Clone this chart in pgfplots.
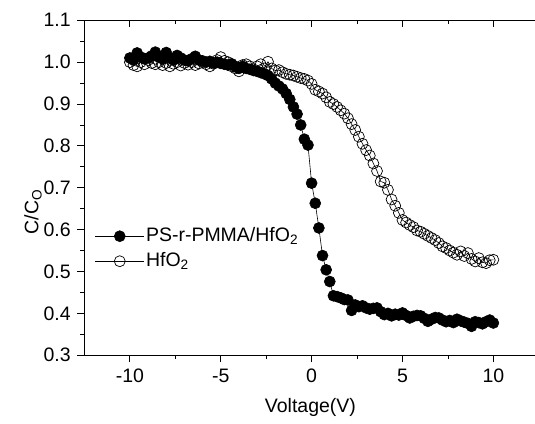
\documentclass[border=0pt]{standalone}
\usepackage{pgfplots}
\pgfplotsset{compat=1.18}
\usepackage{fontspec}
\setmainfont{Liberation Sans}
\begin{document}
\fontsize{19.5bp}{23bp}\selectfont
\begin{tikzpicture}
\begin{axis}[
  scale only axis, width=450.5bp, height=335.2bp,
  xmin=-12.5, xmax=12.27, ymin=0.3, ymax=1.1,
  axis x line*=box, axis y line*=left,
  axis line style={-, line width=0.8bp},
  xtick={-10,-5,0,5,10}, minor x tick num=1,
  ytick={0.3,0.4,...,1.1}, minor y tick num=1,
  xtick pos=left,
  tick align=outside,
  major tick length=7bp, minor tick length=4bp,
  every tick/.style={black, line width=0.8bp},
  /pgf/number format/assume math mode=true,
  /pgf/number format/.cd, fixed, fixed zerofill, precision=1, /pgfplots/.cd,
  xticklabel style={/pgf/number format/precision=0, /pgf/number format/fixed zerofill=false},
  tick label style={font=\fontsize{19.5bp}{23bp}\selectfont},
  xlabel={Voltage(V)},
  ylabel={C/C\textsubscript{O}},
  label style={font=\fontsize{19.5bp}{23bp}\selectfont},
  xlabel style={at={(axis description cs:0.502,0)}, anchor=center, yshift=-52.5bp},
  ylabel style={at={(axis description cs:0,0.428)}, anchor=center, yshift=51.5bp},
  legend style={draw=none, fill=none, at={(axis description cs:0.023,0.318)}, anchor=west, font=\fontsize{19.5bp}{23bp}\selectfont, row sep=5bp, inner sep=0pt, nodes={inner sep=1.5bp}},
  legend cell align=left,
  legend image code/.code={\draw[mark repeat=2, mark phase=2, #1] plot coordinates {(0bp,0bp) (24.5bp,0bp) (49bp,0bp)};},
]
\addplot[black, line width=0.6bp, mark=*, mark options={solid, fill=black, draw=black}, mark size=5.5bp] coordinates {
(-10.0,1.010) (-9.8,1.005) (-9.6,1.022) (-9.4,1.012) (-9.2,1.008) (-9.0,1.010) (-8.8,1.015) (-8.6,1.024) (-8.4,1.012) (-8.2,1.008)
(-8.0,1.023) (-7.8,1.010) (-7.6,1.005) (-7.4,1.016) (-7.2,1.010) (-7.0,1.005) (-6.8,1.003) (-6.6,1.008) (-6.4,1.014) (-6.2,1.005)
(-6.0,1.003) (-5.8,1.000) (-5.6,1.002) (-5.4,0.998) (-5.2,1.000) (-5.0,0.997) (-4.8,0.995) (-4.6,0.993) (-4.4,0.996) (-4.2,0.990)
(-4.0,0.985) (-3.8,0.990) (-3.6,0.985) (-3.4,0.983) (-3.2,0.980) (-3.0,0.978) (-2.8,0.975) (-2.6,0.972) (-2.4,0.968) (-2.2,0.960)
(-2.0,0.950) (-1.8,0.943) (-1.6,0.936) (-1.4,0.925) (-1.2,0.911) (-1.0,0.893) (-0.8,0.876) (-0.6,0.850) (-0.4,0.816) (-0.2,0.802)
(0.0,0.711) (0.2,0.663) (0.4,0.604) (0.6,0.538) (0.8,0.504) (1.0,0.476) (1.2,0.442) (1.4,0.440) (1.6,0.437) (1.8,0.433)
(2.0,0.432) (2.2,0.407) (2.4,0.420) (2.6,0.416) (2.8,0.418) (3.0,0.413) (3.2,0.410) (3.4,0.412) (3.6,0.413) (3.8,0.404)
(4.0,0.397) (4.2,0.400) (4.4,0.394) (4.6,0.398) (4.8,0.396) (5.0,0.401) (5.2,0.395) (5.4,0.389) (5.6,0.393) (5.8,0.395)
(6.0,0.394) (6.2,0.388) (6.4,0.381) (6.6,0.386) (6.8,0.390) (7.0,0.389) (7.2,0.384) (7.4,0.380) (7.6,0.383) (7.8,0.378)
(8.0,0.386) (8.2,0.382) (8.4,0.379) (8.6,0.376) (8.8,0.369) (9.0,0.380) (9.2,0.378) (9.4,0.375) (9.6,0.380) (9.8,0.384)
(10.0,0.377)
};
\addlegendentry{PS-r-PMMA/HfO\textsubscript{2}}
\addplot[black, line width=0.6bp, mark=o, mark options={solid, fill=white, draw=black, line width=0.7bp}, mark size=5.5bp] coordinates {
(-10.0,1.000) (-9.8,0.993) (-9.6,0.990) (-9.4,1.000) (-9.2,0.995) (-9.0,1.005) (-8.8,0.998) (-8.6,0.995) (-8.4,1.000) (-8.2,0.993)
(-8.0,0.998) (-7.8,0.990) (-7.6,0.996) (-7.4,1.000) (-7.2,0.992) (-7.0,0.998) (-6.8,0.994) (-6.6,1.000) (-6.4,0.993) (-6.2,0.997)
(-6.0,1.000) (-5.8,0.995) (-5.6,0.990) (-5.4,0.996) (-5.2,1.005) (-5.0,1.012) (-4.8,1.003) (-4.6,1.000) (-4.4,0.990) (-4.2,0.985)
(-4.0,0.978) (-3.8,0.993) (-3.6,0.995) (-3.4,0.990) (-3.2,0.983) (-3.0,0.990) (-2.8,0.995) (-2.6,0.985) (-2.4,1.001) (-2.2,0.985)
(-2.0,0.980) (-1.8,0.981) (-1.6,0.976) (-1.4,0.972) (-1.2,0.970) (-1.0,0.968) (-0.8,0.965) (-0.6,0.962) (-0.4,0.960) (-0.2,0.956)
(0.0,0.948) (0.2,0.934) (0.4,0.930) (0.6,0.925) (0.8,0.916) (1.0,0.905) (1.2,0.900) (1.4,0.893) (1.6,0.885) (1.8,0.877)
(2.0,0.866) (2.2,0.852) (2.4,0.838) (2.6,0.822) (2.8,0.805) (3.0,0.790) (3.2,0.777) (3.4,0.758) (3.6,0.740) (3.8,0.715)
(4.0,0.712) (4.2,0.695) (4.4,0.672) (4.6,0.657) (4.8,0.640) (5.0,0.623) (5.2,0.617) (5.4,0.611) (5.6,0.606) (5.8,0.598)
(6.0,0.595) (6.2,0.590) (6.4,0.585) (6.6,0.580) (6.8,0.575) (7.0,0.568) (7.2,0.560) (7.4,0.556) (7.6,0.550) (7.8,0.545)
(8.0,0.540) (8.2,0.548) (8.4,0.537) (8.6,0.544) (8.8,0.530) (9.0,0.524) (9.2,0.532) (9.4,0.522) (9.6,0.520) (9.8,0.527)
(10.0,0.528)
};
\addlegendentry{HfO\textsubscript{2}}
\end{axis}
\begin{axis}[
  scale only axis, width=450.5bp, height=335.2bp,
  xmin=-12.5, xmax=12.27, ymin=0.3, ymax=1.1,
  hide y axis,
  axis x line*=top,
  axis line style={-, draw=none},
  xtick={-10,-5,0,5,10}, minor x tick num=1,
  xticklabels={},
  tick align=inside,
  major tick length=7bp, minor tick length=4bp,
  every tick/.style={black, line width=0.8bp},
]
\end{axis}
\path (current axis.south west) ++(-84.5bp,-67.5bp) coordinate (bbA);
\path (current axis.north east) ++(0bp,20.3bp) coordinate (bbB);
\useasboundingbox (bbA) rectangle (bbB);
\end{tikzpicture}
\end{document}
